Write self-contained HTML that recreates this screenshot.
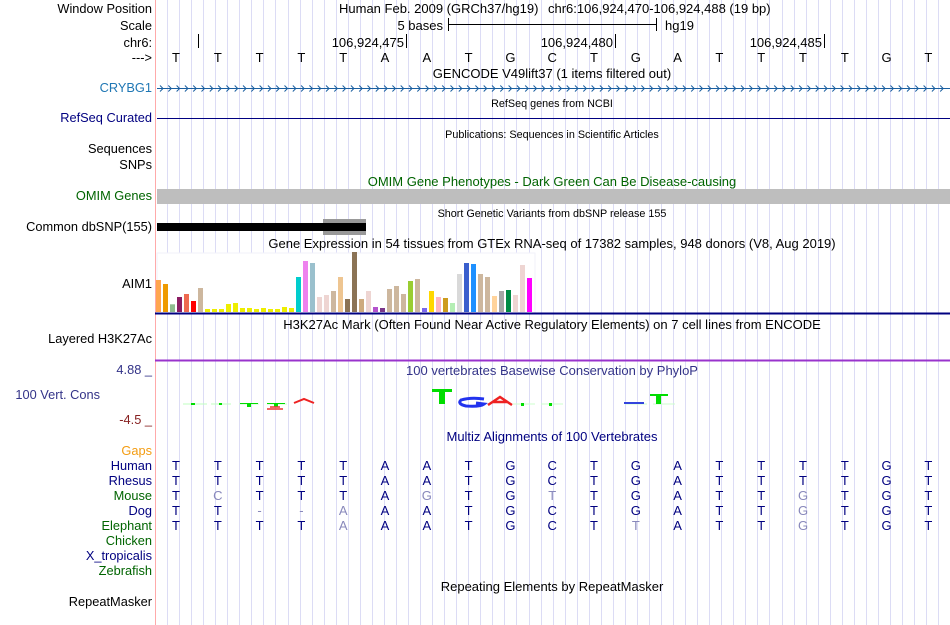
<!DOCTYPE html>
<html><head><meta charset="utf-8">
<style>
html,body{margin:0;padding:0;background:#fff;}
svg{display:block;font-family:"Liberation Sans",Arial,sans-serif;}
</style></head>
<body>
<svg id="c" width="950" height="625" viewBox="0 0 950 625" xmlns="http://www.w3.org/2000/svg">
<g id="grid"></g>
<line x1="155.5" y1="0" x2="155.5" y2="625" stroke="#ffaaaa" stroke-width="1"/>
<g id="labels" font-size="12.8" text-anchor="end">
<text x="152" y="13" fill="#000">Window Position</text>
<text x="152" y="30" fill="#000">Scale</text>
<text x="152" y="47" fill="#000">chr6:</text>
<text x="152" y="62" fill="#000">---&gt;</text>
<text x="152" y="92" fill="#1f77b4">CRYBG1</text>
<text x="152" y="122" fill="#000080">RefSeq Curated</text>
<text x="152" y="153" fill="#000">Sequences</text>
<text x="152" y="169" fill="#000">SNPs</text>
<text x="152" y="200" fill="#006400">OMIM Genes</text>
<text x="152" y="231" fill="#000">Common dbSNP(155)</text>
<text x="152" y="288" fill="#000">AIM1</text>
<text x="152" y="343" fill="#000">Layered H3K27Ac</text>
<text x="152" y="374" fill="#333388">4.88 _</text>
<text x="100" y="399" fill="#333388">100 Vert. Cons</text>
<text x="152" y="424" fill="#882222">-4.5 _</text>
<text x="152" y="455" fill="#f39c12">Gaps</text>
<text x="152" y="470" fill="#000080">Human</text>
<text x="152" y="485" fill="#000080">Rhesus</text>
<text x="152" y="500" fill="#006400">Mouse</text>
<text x="152" y="515" fill="#000080">Dog</text>
<text x="152" y="530" fill="#006400">Elephant</text>
<text x="152" y="545" fill="#006400">Chicken</text>
<text x="152" y="560" fill="#000080">X_tropicalis</text>
<text x="152" y="575" fill="#006400">Zebrafish</text>
<text x="152" y="606" fill="#000">RepeatMasker</text>
</g>
<g font-size="13" fill="#000">
<text x="339" y="13">Human Feb. 2009 (GRCh37/hg19)</text>
<text x="548" y="13">chr6:106,924,470-106,924,488 (19 bp)</text>
<text x="443" y="30" text-anchor="end">5 bases</text>
<line x1="448" y1="24.5" x2="656" y2="24.5" stroke="#000"/>
<line x1="448.5" y1="18" x2="448.5" y2="31" stroke="#000"/>
<line x1="656.5" y1="18" x2="656.5" y2="31" stroke="#000"/>
<text x="665" y="30">hg19</text>
<line x1="198.5" y1="34" x2="198.5" y2="48" stroke="#000"/>
<line x1="406.5" y1="34" x2="406.5" y2="48" stroke="#000"/>
<text x="404" y="47" text-anchor="end">106,924,475</text>
<line x1="615.5" y1="34" x2="615.5" y2="48" stroke="#000"/>
<text x="613" y="47" text-anchor="end">106,924,480</text>
<line x1="824.5" y1="34" x2="824.5" y2="48" stroke="#000"/>
<text x="822" y="47" text-anchor="end">106,924,485</text>
</g>
<g id="bases" font-size="13" fill="#000" text-anchor="middle"></g>
<g text-anchor="middle">
<text x="552" y="78" font-size="13" fill="#000">GENCODE V49lift37 (1 items filtered out)</text>
<text x="552" y="107" font-size="10.8" fill="#000">RefSeq genes from NCBI</text>
<text x="552" y="138" font-size="10.8" fill="#000">Publications: Sequences in Scientific Articles</text>
<text x="552" y="186" font-size="13" fill="#006400">OMIM Gene Phenotypes - Dark Green Can Be Disease-causing</text>
<text x="552" y="217" font-size="10.8" fill="#000">Short Genetic Variants from dbSNP release 155</text>
<text x="552" y="248" font-size="13" fill="#000">Gene Expression in 54 tissues from GTEx RNA-seq of 17382 samples, 948 donors (V8, Aug 2019)</text>
<text x="552" y="329" font-size="13" fill="#000">H3K27Ac Mark (Often Found Near Active Regulatory Elements) on 7 cell lines from ENCODE</text>
<text x="552" y="375" font-size="13" fill="#333388">100 vertebrates Basewise Conservation by PhyloP</text>
<text x="552" y="441" font-size="13" fill="#000080">Multiz Alignments of 100 Vertebrates</text>
<text x="552" y="591" font-size="13" fill="#000">Repeating Elements by RepeatMasker</text>
</g>
<g id="crybg1">
<line x1="157" y1="88.5" x2="950" y2="88.5" stroke="#1a5fa0" stroke-width="1"/>
</g>
<line x1="157" y1="118.5" x2="950" y2="118.5" stroke="#000080"/>
<rect x="157" y="189" width="793" height="15" fill="#bebebe"/>
<rect x="323" y="219" width="43" height="16" fill="#999"/>
<rect x="157" y="223" width="209" height="8" fill="#000"/>
<rect x="157" y="253" width="378" height="60" fill="#fff" stroke="#f2f2fa"/>
<g id="gtex"></g>
<line x1="155" y1="313.5" x2="950" y2="313.5" stroke="#000080" stroke-width="2"/>
<line x1="155" y1="360.5" x2="950" y2="360.5" stroke="#9933cc" stroke-width="2"/>
<g id="cons"></g>
<g id="align" font-size="13" text-anchor="middle"></g>
</svg>
<script>
// GTEx expression values (relative units, max ~60)
const tissues = ["AdipSubq","AdipVisc","Adrenal","ArtAorta","ArtCor","ArtTib","Bladder","Br1","Br2","Br3","Br4","Br5","Br6","Br7","Br8","Br9","Br10","Br11","Br12","Br13","Breast","EBV","Fibro","Cervix1","Cervix2","ColonSig","ColonTr","EsoGEJ","EsoMuc","EsoMus","Fallop","HeartAA","HeartLV","KidCort","KidMed","Liver","Lung","Saliv","Muscle","Nerve","Ovary","Pancreas","Pituitary","Prostate","SkinNS","SkinS","SmallInt","Spleen","Stomach","Testis","Thyroid","Uterus","Vagina","Blood"];
const values = [32,28,7.7,15,18,11,24,3,3,3,8,9,4,4,3,4,3,3,5,4,35,51,49,15,17,21,35,13,60,13,21,5,4,23,26,18,31,33,4,21,15,14,9,38,49,48,38,35,16,21,22,17,47,34];
const colors = ["#FFA54F","#EE9A00","#8FBC8F","#8B1C62","#EE6A50","#FF0000","#CDB79E","#EEEE00","#EEEE00","#EEEE00","#EEEE00","#EEEE00","#EEEE00","#EEEE00","#EEEE00","#EEEE00","#EEEE00","#EEEE00","#EEEE00","#EEEE00","#00CDCD","#EE82EE","#9AC0CD","#EED5D2","#EED5D2","#CDB79E","#EEC591","#8B7355","#8B7355","#CDAA7D","#EED5D2","#B452CD","#7A378B","#CDB79E","#CDB79E","#CDB79E","#9ACD32","#CDB79E","#7A67EE","#FFD700","#FFB6C1","#CD9B1D","#B4EEB4","#D9D9D9","#3A5FCD","#1E90FF","#CDB79E","#CDB79E","#FFD39B","#A6A6A6","#008B45","#EED5D2","#EED5D2","#FF00FF"];
const refBases = ["T","T","T","T","T","A","A","T","G","C","T","G","A","T","T","T","T","G","T"];
const species = ["Human","Rhesus","Mouse","Dog","Elephant"];
const alignRows = [
 "TTTTTAATGCTGATTTTGT",
 "TTTTTAATGCTGATTTTGT",
 "TCTTTAGTGTTGATTGTGT",
 "TT--AAATGCTGATTGTGT",
 "TTTTAAATGCTTATTGTGT"];
const alignDiff = [
 "...................",
 "...................",
 ".x....x..x.....x...",
 "..xxx..........x...",
 "....x......x...x..."];
const NS='http://www.w3.org/2000/svg';
function mk(tag, attrs, parent){const e=document.createElementNS(NS,tag);for(const k in attrs)e.setAttribute(k,attrs[k]);parent.appendChild(e);return e;}
const baseX = i => 176 + i*41.8;
const barX = i => 156 + i*7.0;
const barY = v => 312 - v;
const grid=document.getElementById('grid');
for(let x=167;x<950;x+=12.05){const l=mk('line',{x1:Math.round(x)+0.5,y1:0,x2:Math.round(x)+0.5,y2:625,stroke:'#dcdcf5'},grid);

}
const bg=document.getElementById('bases');
refBases.forEach((b,i)=>{const t=mk('text',{x:baseX(i),y:62},bg);t.textContent=b;

});
const cg=document.getElementById('crybg1');
for(let x=160;x<946;x+=8.3){const p=mk('path',{d:`M${x.toFixed(1)} 85.5 L${(x+3).toFixed(1)} 88.5 L${x.toFixed(1)} 91.5`,stroke:'#1a5fa0',fill:'none','stroke-width':1},cg);

}
const gg=document.getElementById('gtex');
values.forEach((v,i)=>{const r=mk('rect',{x:barX(i),y:barY(v),width:5,height:v,fill:colors[i]},gg);

});
const cons=document.getElementById('cons');
function tick(x,w,c){const r=mk('rect',{x:x,y:403.5,width:w,height:1,fill:c},cons);}
[[183,24,'#bfffbf'],[211,20,'#bfffbf'],[239,20,'#ccffcc'],[267,20,'#ccffcc'],[513,22,'#ccffcc'],[541,22,'#ccffcc'],[625,22,'#ccffcc'],[653,22,'#ccffcc']].forEach(a=>tick(a[0],a[1],a[2]));
function sq(x,y,w,h,c){const r=mk('rect',{x:x,y:y,width:w,height:h,fill:c},cons);}
sq(191,403,4,2,'#00dd00');sq(219,403,3,2,'#00dd00');
sq(240,403,18,1,'#00dd00');sq(247,403,4,4,'#00dd00');
sq(267,403,18,1,'#00dd00');sq(274,403,4,4,'#00dd00');
const red1=mk('path',{d:'M267 409 L283 409 M270 407 L280 407',stroke:'#ee3333','stroke-width':1.5,fill:'none'},cons);
const red2=mk('path',{d:'M294 403 L304 399 L314 403',stroke:'#ee2222','stroke-width':2,fill:'none'},cons);
sq(432,389,20,3,'#00dd00');sq(439,389,6,15,'#00dd00');
const g1=mk('path',{d:'M484 399 Q471 397 461 400 Q457 404 466 406 Q480 407 484 404 L476 403',stroke:'#2233ee','stroke-width':3,fill:'none'},cons);
const a1=mk('path',{d:'M488 405 L500 397 L512 405 M493 402 L507 402',stroke:'#ee2222','stroke-width':2.5,fill:'none'},cons);
sq(521,403,3,3,'#00dd00');sq(549,403,3,3,'#00dd00');
sq(624,402,20,2,'#3344dd');sq(650,394,18,2,'#00dd00');sq(656,394,5,10,'#00dd00');
const ag=document.getElementById('align');
alignRows.forEach((row,r)=>{row.split('').forEach((ch,i)=>{const t=mk('text',{x:baseX(i),y:470+r*15,fill:alignDiff[r][i]==='x'?'#8888bb':'#000080'},ag);t.textContent=ch;

});});
</script>
</body></html>
